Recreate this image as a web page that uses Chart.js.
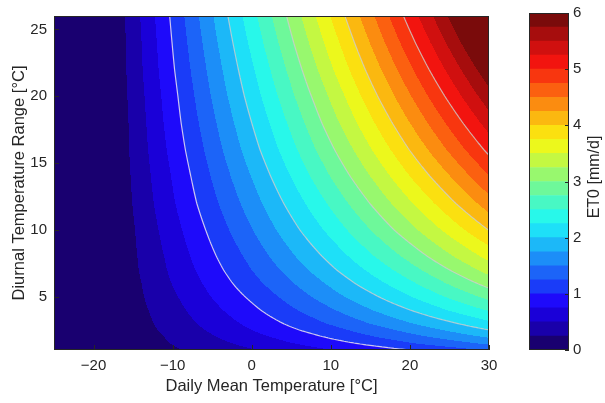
<!DOCTYPE html>
<html>
<head>
<meta charset="utf-8">
<script src="https://cdn.jsdelivr.net/npm/chart.js@4.4.0/dist/chart.umd.min.js"></script>
<style>
  html, body { margin: 0; padding: 0; background: #fff; }
  #wrap { position: relative; width: 605px; height: 403px; }
  #mainBox { position: absolute; left: 0; top: 0; width: 520px; height: 403px; }
  #barBox { position: absolute; left: 520px; top: 0; width: 85px; height: 403px; }
</style>
</head>
<body>
<div id="wrap">
  <div id="mainBox"><canvas id="etChart"></canvas></div>
  <div id="barBox"><canvas id="barChart"></canvas></div>
</div>
<script>
// grid: daily mean temperature (columns) x diurnal range (rows)
const tempGrid = [-25, -18, -15, -10, -5, 0, 5, 10, 15, 20, 25, 30];
const dtrGrid = [1, 1.5, 2, 2.5, 3, 4, 5, 6, 7, 8, 10, 12, 14, 16, 18, 20, 22, 24, 26];
const et0 = [
  [0, 0, 0.09, 0.22, 0.35, 0.48, 0.61, 0.74, 0.87, 1.00, 1.13, 1.27],
  [0, 0, 0.10, 0.26, 0.42, 0.58, 0.74, 0.90, 1.06, 1.23, 1.39, 1.55],
  [0, 0, 0.11, 0.29, 0.48, 0.67, 0.85, 1.04, 1.23, 1.42, 1.60, 1.79],
  [0, 0, 0.12, 0.33, 0.54, 0.75, 0.96, 1.16, 1.37, 1.58, 1.79, 2.00],
  [0, 0, 0.13, 0.36, 0.59, 0.82, 1.05, 1.28, 1.51, 1.74, 1.96, 2.19],
  [0, 0, 0.15, 0.41, 0.68, 0.94, 1.21, 1.47, 1.74, 2.00, 2.27, 2.53],
  [0, 0, 0.17, 0.46, 0.76, 1.05, 1.35, 1.65, 1.94, 2.24, 2.54, 2.83],
  [0, 0, 0.18, 0.51, 0.83, 1.16, 1.48, 1.80, 2.13, 2.45, 2.78, 3.10],
  [0, 0, 0.20, 0.55, 0.90, 1.25, 1.60, 1.95, 2.30, 2.65, 3.00, 3.35],
  [0, 0, 0.21, 0.58, 0.96, 1.33, 1.71, 2.08, 2.46, 2.83, 3.21, 3.58],
  [0, 0, 0.23, 0.65, 1.07, 1.49, 1.91, 2.33, 2.75, 3.17, 3.59, 4.01],
  [0, 0, 0.26, 0.72, 1.18, 1.63, 2.09, 2.55, 3.01, 3.47, 3.93, 4.39],
  [0, 0, 0.28, 0.77, 1.27, 1.76, 2.26, 2.76, 3.25, 3.75, 4.24, 4.74],
  [0, 0, 0.30, 0.83, 1.36, 1.89, 2.42, 2.95, 3.48, 4.01, 4.54, 5.07],
  [0, 0, 0.31, 0.88, 1.44, 2.00, 2.56, 3.13, 3.69, 4.25, 4.81, 5.37],
  [0, 0, 0.33, 0.92, 1.52, 2.11, 2.70, 3.29, 3.89, 4.48, 5.07, 5.66],
  [0, 0, 0.35, 0.97, 1.59, 2.21, 2.83, 3.46, 4.08, 4.70, 5.32, 5.94],
  [0, 0, 0.36, 1.01, 1.66, 2.31, 2.96, 3.61, 4.26, 4.91, 5.56, 6.21],
  [0, 0, 0.38, 1.05, 1.73, 2.41, 3.08, 3.76, 4.43, 5.11, 5.78, 6.46]
];
const levels = [0, 0.25, 0.5, 0.75, 1, 1.25, 1.5, 1.75, 2, 2.25, 2.5, 2.75, 3,
  3.25, 3.5, 3.75, 4, 4.25, 4.5, 4.75, 5, 5.25, 5.5, 5.75, 6];
const contourLevels = [1, 2, 3, 4, 5];
const xTicks = [-20, -10, 0, 10, 20, 30];
const yTicks = [5, 10, 15, 20, 25];
const barTicks = [0, 1, 2, 3, 4, 5, 6];

const palette = [
  '#190070', '#1900aa', '#1a00d8', '#1e0afa', '#1a3cf8', '#1c64f8', '#1c8ef8', '#1cb8f8',
  '#1ee0f8', '#28f8ea', '#48f8c4', '#6ef89a', '#98f86e', '#c4f842', '#ecf81c', '#fbe010',
  '#fbb810', '#fb8c10', '#fb6010', '#f8360f', '#f2140f', '#d0100f', '#a60d0d', '#7a0b0b'
];
const textColor = '#262626';
const fontFamily = '"Liberation Sans", Arial, sans-serif';

function rgbOf(hex) {
  return [parseInt(hex.slice(1, 3), 16), parseInt(hex.slice(3, 5), 16), parseInt(hex.slice(5, 7), 16)];
}
const paletteRgb = palette.map(rgbOf);

function findCell(arr, v) {
  let i = 0;
  while (i < arr.length - 2 && v > arr[i + 1]) i++;
  const f = (v - arr[i]) / (arr[i + 1] - arr[i]);
  return [i, Math.min(Math.max(f, 0), 1)];
}

function fieldAt(t, d) {
  const [i, fx] = findCell(tempGrid, t);
  const [j, fy] = findCell(dtrGrid, d);
  const lo = et0[j][i] * (1 - fx) + et0[j][i + 1] * fx;
  const hi = et0[j + 1][i] * (1 - fx) + et0[j + 1][i + 1] * fx;
  return lo * (1 - fy) + hi * fy;
}

function levelIndex(v) {
  let k = 0;
  while (k < levels.length - 2 && v >= levels[k + 1]) k++;
  return k;
}

function minusSign(v) {
  return String(v).replace('-', '\u2212');
}

// filled contour map + contour lines
const contourPlugin = {
  id: 'contourFill',
  beforeDatasetsDraw(chart) {
    const { ctx, chartArea: a, scales: { x, y } } = chart;
    const w = Math.round(a.right - a.left);
    const h = Math.round(a.bottom - a.top);
    const off = document.createElement('canvas');
    off.width = w;
    off.height = h;
    const octx = off.getContext('2d');
    const img = octx.createImageData(w, h);
    for (let py = 0; py < h; py++) {
      const d = y.getValueForPixel(a.top + py + 0.5);
      for (let px = 0; px < w; px++) {
        const t = x.getValueForPixel(a.left + px + 0.5);
        const c = paletteRgb[levelIndex(fieldAt(t, d))];
        const o = (py * w + px) * 4;
        img.data[o] = c[0];
        img.data[o + 1] = c[1];
        img.data[o + 2] = c[2];
        img.data[o + 3] = 255;
      }
    }
    octx.putImageData(img, 0, 0);
    ctx.drawImage(off, a.left, a.top);

    // contour lines by marching squares on a 2px sample grid
    const step = 2;
    const nx = Math.ceil(w / step) + 1;
    const ny = Math.ceil(h / step) + 1;
    const px = i => a.left + Math.min(i * step, w);
    const py = j => a.top + Math.min(j * step, h);
    const vals = [];
    for (let j = 0; j < ny; j++) {
      const row = [];
      const d = y.getValueForPixel(py(j));
      for (let i = 0; i < nx; i++) row.push(fieldAt(x.getValueForPixel(px(i)), d));
      vals.push(row);
    }
    ctx.save();
    ctx.beginPath();
    ctx.rect(a.left, a.top, w, h);
    ctx.clip();
    ctx.lineWidth = 1.2;
    contourLevels.forEach(L => {
      ctx.strokeStyle = L === 1 ? 'rgba(235,225,240,0.85)' : 'rgba(205,205,205,0.8)';
      ctx.beginPath();
      for (let j = 0; j < ny - 1; j++) {
        for (let i = 0; i < nx - 1; i++) {
          const c = [
            [px(i), py(j), vals[j][i]],
            [px(i + 1), py(j), vals[j][i + 1]],
            [px(i + 1), py(j + 1), vals[j + 1][i + 1]],
            [px(i), py(j + 1), vals[j + 1][i]]
          ];
          const pts = [];
          for (let e = 0; e < 4; e++) {
            const p = c[e], q = c[(e + 1) % 4];
            if ((p[2] - L) * (q[2] - L) < 0) {
              const f = (L - p[2]) / (q[2] - p[2]);
              pts.push([p[0] + (q[0] - p[0]) * f, p[1] + (q[1] - p[1]) * f]);
            }
          }
          for (let k = 0; k + 1 < pts.length; k += 2) {
            ctx.moveTo(pts[k][0], pts[k][1]);
            ctx.lineTo(pts[k + 1][0], pts[k + 1][1]);
          }
        }
      }
      ctx.stroke();
    });
    ctx.restore();
  },
  afterDatasetsDraw(chart) {
    const { ctx, chartArea: a, scales: { x, y } } = chart;
    ctx.save();
    ctx.strokeStyle = '#262626';
    ctx.lineWidth = 1;
    ctx.beginPath();
    xTicks.forEach(v => {
      const p = Math.round(x.getPixelForValue(v)) + 0.5;
      ctx.moveTo(p, a.bottom);
      ctx.lineTo(p, a.bottom - 5);
    });
    yTicks.forEach(v => {
      const p = Math.round(y.getPixelForValue(v)) + 0.5;
      ctx.moveTo(a.left, p);
      ctx.lineTo(a.left + 5, p);
    });
    ctx.stroke();
    ctx.strokeRect(Math.round(a.left) + 0.5, Math.round(a.top) + 0.5,
      Math.round(a.right - a.left) - 1, Math.round(a.bottom - a.top) - 1);
    ctx.restore();
  }
};

const gridPoints = [];
dtrGrid.forEach((d, j) => tempGrid.forEach((t, i) => gridPoints.push({ x: t, y: d, v: et0[j][i] })));

new Chart(document.getElementById('etChart').getContext('2d'), {
  type: 'scatter',
  data: {
    datasets: [{
      label: 'ET0',
      data: gridPoints,
      pointRadius: 0,
      pointHoverRadius: 0
    }]
  },
  options: {
    responsive: true,
    maintainAspectRatio: false,
    animation: false,
    layout: { padding: { left: 0, right: 31, top: 12, bottom: 0 } },
    plugins: { legend: { display: false }, tooltip: { enabled: false } },
    scales: {
      x: {
        type: 'linear',
        min: -25,
        max: 30,
        afterBuildTicks: s => { s.ticks = xTicks.map(v => ({ value: v })); },
        afterFit: s => { s.height = 53; },
        grid: { display: false, drawTicks: false },
        border: { display: false },
        ticks: {
          autoSkip: false, maxRotation: 0, padding: 7, color: textColor,
          font: { family: fontFamily, size: 15 },
          callback: v => minusSign(v)
        },
        title: {
          display: true, text: 'Daily Mean Temperature [°C]', color: textColor,
          font: { family: fontFamily, size: 16.5 }, padding: { top: 0, bottom: 7 }
        }
      },
      y: {
        type: 'linear',
        min: 1,
        max: 26,
        afterBuildTicks: s => { s.ticks = yTicks.map(v => ({ value: v })); },
        afterFit: s => { s.width = 54; },
        grid: { display: false, drawTicks: false },
        border: { display: false },
        ticks: {
          autoSkip: false, padding: 7, color: textColor,
          font: { family: fontFamily, size: 15 }
        },
        title: {
          display: true, text: 'Diurnal Temperature Range [°C]', color: textColor,
          font: { family: fontFamily, size: 16.5 }, padding: { top: 10, bottom: 0 }
        }
      }
    }
  },
  plugins: [contourPlugin]
});

// colour bar
const barFrame = {
  id: 'barFrame',
  afterDatasetsDraw(chart) {
    const { ctx, chartArea: a, scales: { y } } = chart;
    ctx.save();
    ctx.strokeStyle = '#262626';
    ctx.lineWidth = 1;
    ctx.beginPath();
    barTicks.forEach(v => {
      const p = Math.round(y.getPixelForValue(v)) + 0.5;
      ctx.moveTo(a.right, p);
      ctx.lineTo(a.right - 4, p);
    });
    ctx.stroke();
    ctx.strokeRect(Math.round(a.left) + 0.5, Math.round(a.top) + 0.5,
      Math.round(a.right - a.left) - 1, Math.round(a.bottom - a.top) - 1);
    ctx.translate(75, 177);
    ctx.rotate(-Math.PI / 2);
    ctx.fillStyle = textColor;
    ctx.font = '16px ' + fontFamily;
    ctx.textAlign = 'center';
    ctx.textBaseline = 'middle';
    ctx.fillText('ET0 [mm/d]', 0, 0);
    ctx.restore();
  }
};

new Chart(document.getElementById('barChart').getContext('2d'), {
  type: 'bar',
  data: {
    labels: [''],
    datasets: levels.slice(0, -1).map((lo, k) => ({
      label: lo + '–' + levels[k + 1],
      data: [[lo, levels[k + 1]]],
      backgroundColor: palette[k],
      borderWidth: 0,
      grouped: false,
      barPercentage: 1,
      categoryPercentage: 1
    }))
  },
  options: {
    responsive: true,
    maintainAspectRatio: false,
    animation: false,
    layout: { padding: { left: 9, right: 0, top: 12, bottom: 53 } },
    plugins: { legend: { display: false }, tooltip: { enabled: false } },
    scales: {
      x: { display: false },
      y: {
        position: 'right',
        min: 0,
        max: 6,
        afterBuildTicks: s => { s.ticks = barTicks.map(v => ({ value: v })); },
        afterFit: s => { s.width = 36; },
        grid: { display: false, drawTicks: false },
        border: { display: false },
        ticks: {
          autoSkip: false, padding: 4, color: textColor,
          font: { family: fontFamily, size: 15 }
        }
      }
    }
  },
  plugins: [barFrame]
});
</script>
</body>
</html>
